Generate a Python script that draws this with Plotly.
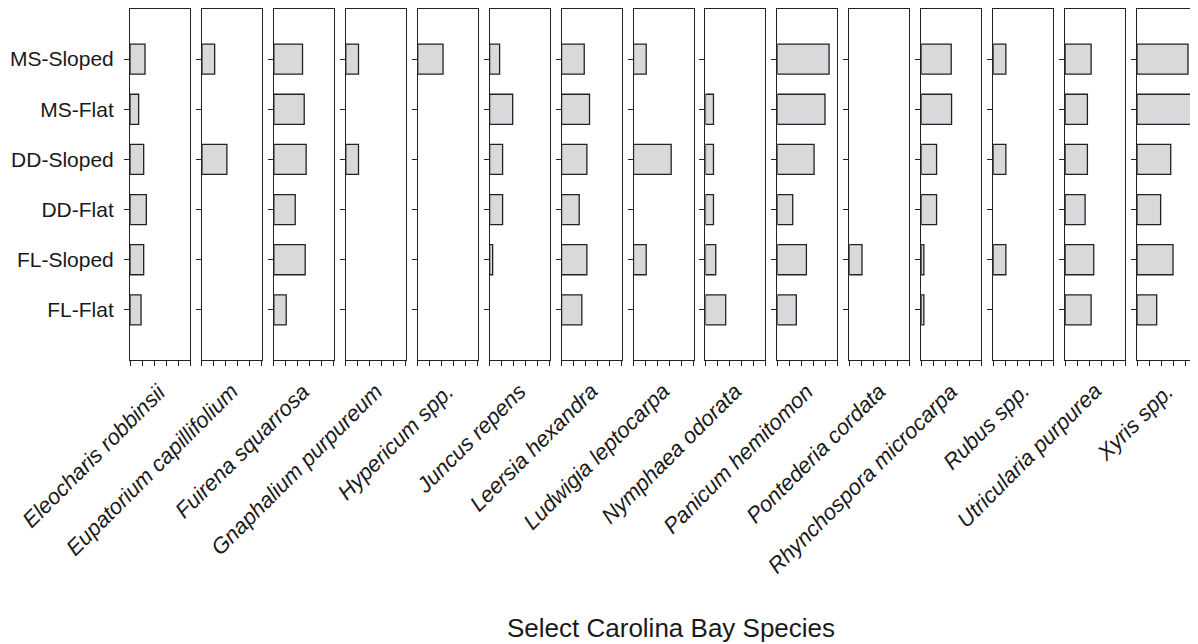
import plotly.graph_objects as go

categories = ["FL-Flat", "FL-Sloped", "DD-Flat", "DD-Sloped", "MS-Flat", "MS-Sloped"]

species = [
    "Eleocharis robbinsii", "Eupatorium capillifolium", "Fuirena squarrosa",
    "Gnaphalium purpureum", "Hypericum spp.", "Juncus repens", "Leersia hexandra",
    "Ludwigia leptocarpa", "Nymphaea odorata", "Panicum hemitomon",
    "Pontederia cordata", "Rhynchospora microcarpa", "Rubus spp.",
    "Utricularia purpurea", "Xyris spp.",
]

# values ordered as categories: FL-Flat, FL-Sloped, DD-Flat, DD-Sloped, MS-Flat, MS-Sloped
eleocharis = [0.92, 1.14, 1.36, 1.14, 0.72, 1.25]
eupatorium = [0, 0, 0, 2.08, 0, 1.06]
fuirena = [1.03, 2.61, 1.78, 2.69, 2.53, 2.39]
gnaphalium = [0, 0, 0, 1.06, 0, 1.06]
hypericum = [0, 0, 0, 0, 0, 2.11]
juncus = [0, 0.25, 1.08, 1.08, 1.92, 0.83]
leersia = [1.69, 2.11, 1.47, 2.11, 2.33, 1.89]
ludwigia = [0, 1.06, 0, 3.14, 0, 1.06]
nymphaea = [1.69, 0.86, 0.67, 0.67, 0.67, 0]
panicum = [1.58, 2.42, 1.28, 3.06, 3.97, 4.31]
pontederia = [0, 1.06, 0, 0, 0, 0]
rhynchospora = [0.22, 0.22, 1.28, 1.28, 2.53, 2.50]
rubus = [0, 1.06, 0, 1.06, 0, 1.06]
utricularia = [2.17, 2.39, 1.67, 1.86, 1.86, 2.17]
xyris = [1.64, 3.00, 1.97, 2.81, 4.47, 4.25]

values = [eleocharis, eupatorium, fuirena, gnaphalium, hypericum, juncus, leersia,
          ludwigia, nymphaea, panicum, pontederia, rhynchospora, rubus, utricularia, xyris]

x_ticks = [0, 1, 2, 3, 4, 5]

# the page body has an 8px margin, so the figure is a bit smaller than the window
W, H = 1190, 636
ML, MR, MT, MB = 122, 1, 1, 284
PW = W - ML - MR
PH = H - MT - MB
panel_w = 60
step = (PW - panel_w) / 14


def px_x(px):
    return (px - ML) / PW


def px_y(py):
    return (H - MB - py) / PH


fig = go.Figure()
font_family = "Liberation Sans, Arial, Helvetica, sans-serif"
line_col = "#222222"
text_col = "#1a1a1a"

for i, (name, vals) in enumerate(zip(species, values)):
    idx = "" if i == 0 else str(i + 1)
    xa, ya = "x" + idx, "y" + idx
    xs = [v if v > 0 else None for v in vals]
    fig.add_trace(go.Bar(
        x=xs, y=list(range(len(categories))), orientation="h",
        width=0.6, xaxis=xa, yaxis=ya,
        marker=dict(color="#d9d9db", line=dict(color="#222222", width=1.3)),
        showlegend=False, hoverinfo="skip",
    ))
    left = i * step
    d0 = left / PW
    d1 = (left + panel_w) / PW
    fig.layout["xaxis" + idx] = dict(
        domain=[d0, d1], range=[0, 5], anchor=ya,
        tickvals=x_ticks, ticks="outside", ticklen=5, tickcolor=line_col,
        showticklabels=False, showgrid=False, zeroline=False,
        showline=True, linecolor=line_col, linewidth=1, mirror=True,
        fixedrange=True,
    )
    fig.layout["yaxis" + idx] = dict(
        domain=[0, 1], range=[-1, 6], anchor=xa,
        tickvals=list(range(len(categories))), ticktext=categories,
        ticks="outside", ticklen=5, tickcolor=line_col,
        showticklabels=(i == 0), showgrid=False, zeroline=False,
        showline=True, linecolor=line_col, linewidth=1, mirror=True,
        tickfont=dict(size=21, color=text_col, family=font_family),
        ticklabelstandoff=6,
        fixedrange=True,
    )
    center_px = ML + left + panel_w / 2
    fig.add_annotation(
        text=name, xref="paper", yref="paper",
        x=px_x(center_px + 14), y=px_y(H - MB + 16),
        xanchor="right", yanchor="top", textangle=-45, showarrow=False,
        font=dict(size=22, color=text_col, family=font_family, style="italic"),
    )

fig.add_annotation(
    text="Select Carolina Bay Species", xref="paper", yref="paper",
    x=px_x(663), y=px_y(620), xanchor="center", yanchor="middle",
    showarrow=False, font=dict(size=26, color=text_col, family=font_family),
)

fig.update_layout(
    width=W, height=H,
    margin=dict(l=ML, r=MR, t=MT, b=MB),
    paper_bgcolor="white", plot_bgcolor="white",
    bargap=0.4,
)

fig.write_html("out.html")
